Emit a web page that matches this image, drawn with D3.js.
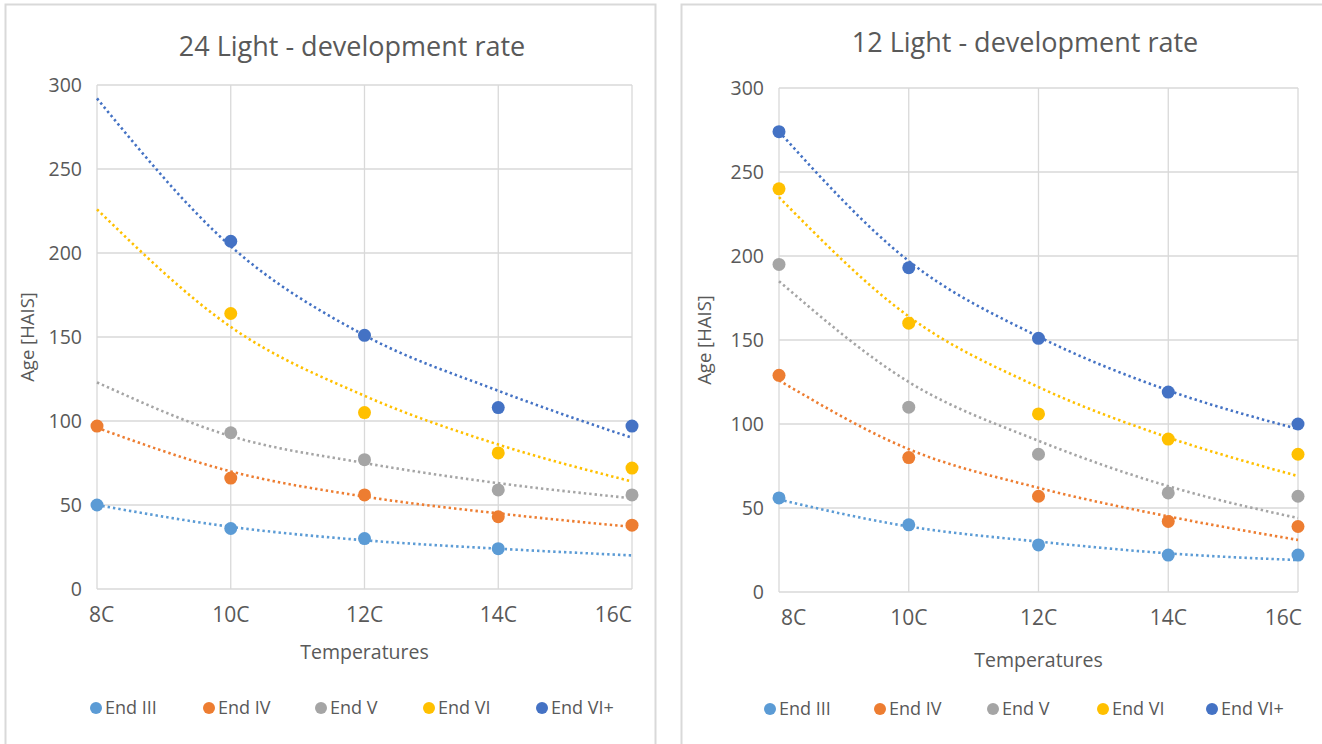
<!DOCTYPE html>
<html>
<head>
<meta charset="utf-8">
<script src="https://cdn.jsdelivr.net/npm/d3@7"></script>
<style>
	body { margin: 0; background: #ffffff; }
	text { font-family: "Open Sans", "Noto Sans", sans-serif; fill: #595959; }
</style>
</head>
<body>
<div id="container"></div>
<script>
const width = 1322;
const height = 744;

// categories and series
const temps = ["8C", "10C", "12C", "14C", "16C"];
const stages = ["End III", "End IV", "End V", "End VI", "End VI+"];
const stageColors = ["#5B9BD5", "#ED7D31", "#A5A5A5", "#FFC000", "#4472C4"];
const yTicks = [0, 50, 100, 150, 200, 250, 300];

// 24 Light - measured points (null = no point)
const light24 = [
	[50, 36, 30, 24, null],
	[97, 66, 56, 43, 38],
	[null, 93, 77, 59, 56],
	[null, 164, 105, 81, 72],
	[null, 207, 151, 108, 97]
];
// 24 Light - trendline values read at each temperature
const light24Trend = [
	[50, 37, 29, 24, 20],
	[96, 70, 55, 45, 37],
	[123, 91, 75, 63, 54],
	[226, 156, 115, 86, 64],
	[292, 204, 151, 118, 90]
];

// 12 Light - measured points
const light12 = [
	[56, 40, 28, 22, 22],
	[129, 80, 57, 42, 39],
	[195, 110, 82, 59, 57],
	[240, 160, 106, 91, 82],
	[274, 193, 151, 119, 100]
];
// 12 Light - trendline values
const light12Trend = [
	[55, 39, 30, 23, 19],
	[126, 85, 62, 45, 31],
	[185, 125, 90, 63, 44],
	[235, 164, 122, 92, 69],
	[274, 197, 152, 120, 97]
];

let svg = d3.select("#container")
	.append("svg")
	.attr("width", width)
	.attr("height", height);

drawChart({
	title: "24 Light - development rate",
	panel: [5, 4, 650, 760],
	plot: { left: 97, right: 632, top: 85, bottom: 589 },
	titleX: 352, titleY: 56,
	yTitleX: 34,
	firstShift: -8, lastShift: 0,
	legendX: [96, 209, 321, 429, 542], legendY: 708,
	xTitleY: 659,
	points: light24,
	trend: light24Trend
});

drawChart({
	title: "12 Light - development rate",
	panel: [681, 4, 660, 760],
	plot: { left: 779, right: 1298, top: 88, bottom: 592 },
	titleX: 1025, titleY: 52,
	yTitleX: 711,
	firstShift: 2, lastShift: 4,
	legendX: [770, 880, 993, 1103, 1212], legendY: 709,
	xTitleY: 667,
	points: light12,
	trend: light12Trend
});

function drawChart(cfg) {
	let g = svg.append("g");
	const p = cfg.plot;

	// panel frame
	g.append("rect")
		.attr("x", cfg.panel[0] + 0.5)
		.attr("y", cfg.panel[1] + 0.5)
		.attr("width", cfg.panel[2])
		.attr("height", cfg.panel[3])
		.attr("fill", "#fff")
		.attr("stroke", "#d9d9d9")
		.attr("stroke-width", 2);

	const x = d3.scalePoint().domain(temps).range([p.left, p.right]);
	const y = d3.scaleLinear().domain([0, 300]).range([p.bottom, p.top]);

	// gridlines
	g.selectAll(".hgrid")
		.data(yTicks)
		.enter()
		.append("line")
		.attr("x1", p.left).attr("x2", p.right)
		.attr("y1", d => y(d)).attr("y2", d => y(d))
		.attr("stroke", "#d9d9d9")
		.attr("stroke-width", 1.3);

	g.selectAll(".vgrid")
		.data(temps)
		.enter()
		.append("line")
		.attr("x1", d => x(d)).attr("x2", d => x(d))
		.attr("y1", p.top).attr("y2", p.bottom)
		.attr("stroke", "#d9d9d9")
		.attr("stroke-width", 1.3);

	// y ticks
	g.selectAll(".ytick")
		.data(yTicks)
		.enter()
		.append("text")
		.attr("x", p.left - 15)
		.attr("y", d => y(d))
		.attr("dy", "0.35em")
		.attr("text-anchor", "end")
		.attr("font-size", 19.5)
		.text(d => d);

	// x ticks, end labels pulled inside like Excel does
	const last = temps.length - 1;
	g.selectAll(".xtick")
		.data(temps)
		.enter()
		.append("text")
		.attr("x", (d, i) => i === 0 ? x(d) + cfg.firstShift : (i === last ? x(d) + cfg.lastShift : x(d)))
		.attr("y", p.bottom + 33)
		.attr("text-anchor", (d, i) => i === 0 ? "start" : (i === last ? "end" : "middle"))
		.attr("font-size", 21)
		.text(d => d);

	// titles
	g.append("text")
		.attr("x", cfg.titleX)
		.attr("y", cfg.titleY)
		.attr("text-anchor", "middle")
		.attr("font-size", 27)
		.text(cfg.title);

	g.append("text")
		.attr("x", (p.left + p.right) / 2)
		.attr("y", cfg.xTitleY)
		.attr("text-anchor", "middle")
		.attr("font-size", 19.5)
		.text("Temperatures");

	g.append("text")
		.attr("transform", "translate(" + cfg.yTitleX + "," + (p.top + p.bottom) / 2 + ") rotate(-90)")
		.attr("text-anchor", "middle")
		.attr("font-size", 18.5)
		.text("Age [HAIS]");

	// trendlines (dotted)
	const line = d3.line()
		.x((d, i) => x(temps[i]))
		.y(d => y(d))
		.curve(d3.curveMonotoneX);

	g.selectAll(".trend")
		.data(cfg.trend)
		.enter()
		.append("path")
		.attr("d", line)
		.attr("fill", "none")
		.attr("stroke", (d, i) => stageColors[i])
		.attr("stroke-width", 2.6)
		.attr("stroke-dasharray", "2.4 3");

	// points
	cfg.points.forEach(function(series, s) {
		g.selectAll(".pt" + s)
			.data(series.map((v, i) => ({ t: temps[i], v: v })).filter(d => d.v !== null))
			.enter()
			.append("circle")
			.attr("cx", d => x(d.t))
			.attr("cy", d => y(d.v))
			.attr("r", 6.5)
			.attr("fill", stageColors[s]);
	});

	// legend
	let legend = g.selectAll(".legend")
		.data(stages)
		.enter()
		.append("g")
		.attr("transform", (d, i) => "translate(" + cfg.legendX[i] + "," + cfg.legendY + ")");

	legend.append("circle")
		.attr("r", 6)
		.attr("fill", (d, i) => stageColors[i]);

	legend.append("text")
		.attr("x", 9)
		.attr("dy", "0.35em")
		.attr("font-size", 18)
		.text(d => d);
}
</script>
</body>
</html>
